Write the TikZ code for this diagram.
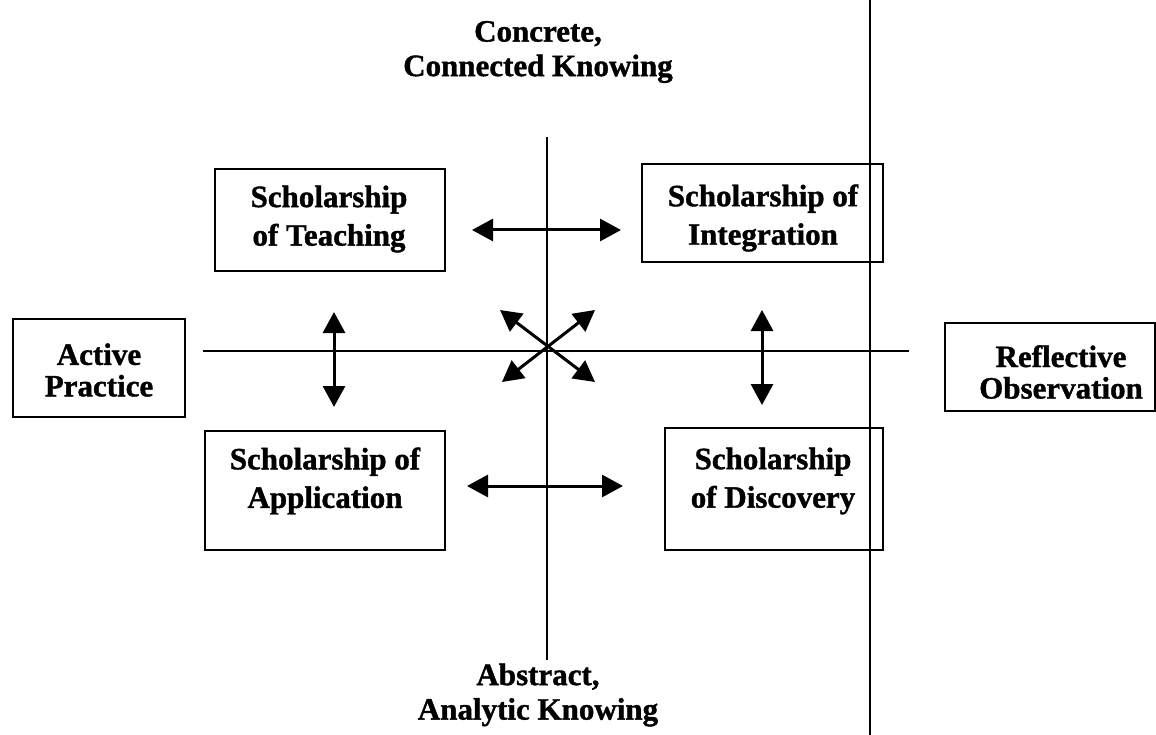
\documentclass[tikz,border=0pt]{standalone}
\usepackage{fontspec}
\setmainfont[BoldFeatures={FakeBold=1.2}]{Liberation Serif}
\usetikzlibrary{arrows.meta}
\newcommand{\boxlblfont}{\fontsize{31}{38.5}\selectfont\bfseries}
\newcommand{\sidelblfont}{\fontsize{31}{31.5}\selectfont\bfseries}
\newcommand{\axislblfont}{\fontsize{31}{34.5}\selectfont\bfseries}
\begin{document}
\begin{tikzpicture}[x=1pt,y=-1pt,
  frame/.style={draw, line width=2.6pt, inner sep=0pt},
  boxlbl/.style={font=\boxlblfont, align=center, inner sep=0pt},
  sidelbl/.style={font=\sidelblfont, align=center, inner sep=0pt},
  axislbl/.style={font=\axislblfont, align=center, inner sep=0pt},
  axisline/.style={line width=2.8pt},
  thinline/.style={line width=1.1pt},
  dblarrow/.style={line width=3pt,
    {Triangle[length=21pt,width=22pt]}-{Triangle[length=21pt,width=22pt]}}]
\useasboundingbox (0,0) rectangle (1156,735);
\fill[white] (0,0) rectangle (1156,735);

% axes
\coordinate (vtop) at (547,137);
\coordinate (vbot) at (547,660);
\coordinate (hleft) at (203,351);
\coordinate (hright) at (909,351);
\draw[axisline] (vtop) -- (vbot);
\draw[axisline] (hleft) -- (hright);

% thin vertical rule
\coordinate (rtop) at (870,0);
\coordinate (rbot) at (870,735);
\draw[thinline] (rtop) -- (rbot);

% boxes
\node[frame, minimum width=230pt, minimum height=102pt] (teach) at (330,220) {};
\node[frame, minimum width=241pt, minimum height=98pt] (integ) at (762.5,213) {};
\node[frame, minimum width=240pt, minimum height=119pt] (appl) at (325,490.5) {};
\node[frame, minimum width=218pt, minimum height=122pt] (disc) at (774,489) {};
\node[frame, minimum width=172pt, minimum height=98pt] (active) at (99,368) {};
\node[frame, minimum width=210pt, minimum height=88pt] (refl) at (1050,367) {};

% box texts
\node[boxlbl] (teachT) at (329,219) {Scholarship\\of Teaching};
\node[boxlbl] (integT) at (763,218) {Scholarship of\\Integration};
\node[boxlbl] (applT) at (325,481) {Scholarship of\\Application};
\node[boxlbl] (discT) at (773,481) {Scholarship\\of Discovery};
\node[sidelbl] (activeT) at (99,370) {Active\\Practice};
\node[sidelbl] (reflT) at (1061,372) {Reflective\\Observation};

% axis labels
\node[axislbl] (concrete) at (538,52) {Concrete,\\Connected Knowing};
\node[axislbl] (abstract) at (538,695) {Abstract,\\Analytic Knowing};

% arrows
\coordinate (a1) at (472,230);
\coordinate (a2) at (621,230);
\coordinate (b1) at (467,486);
\coordinate (b2) at (623,486);
\coordinate (c1) at (334,312);
\coordinate (c2) at (334,407);
\coordinate (d1) at (762,310);
\coordinate (d2) at (762,405);
\coordinate (e1) at (500,310);
\coordinate (e2) at (595,382);
\coordinate (f1) at (595,310);
\coordinate (f2) at (502,382);
\draw[dblarrow] (a1) -- (a2);
\draw[dblarrow] (b1) -- (b2);
\draw[dblarrow] (c1) -- (c2);
\draw[dblarrow] (d1) -- (d2);
\draw[dblarrow] (e1) -- (e2);
\draw[dblarrow] (f1) -- (f2);
\end{tikzpicture}
\end{document}
